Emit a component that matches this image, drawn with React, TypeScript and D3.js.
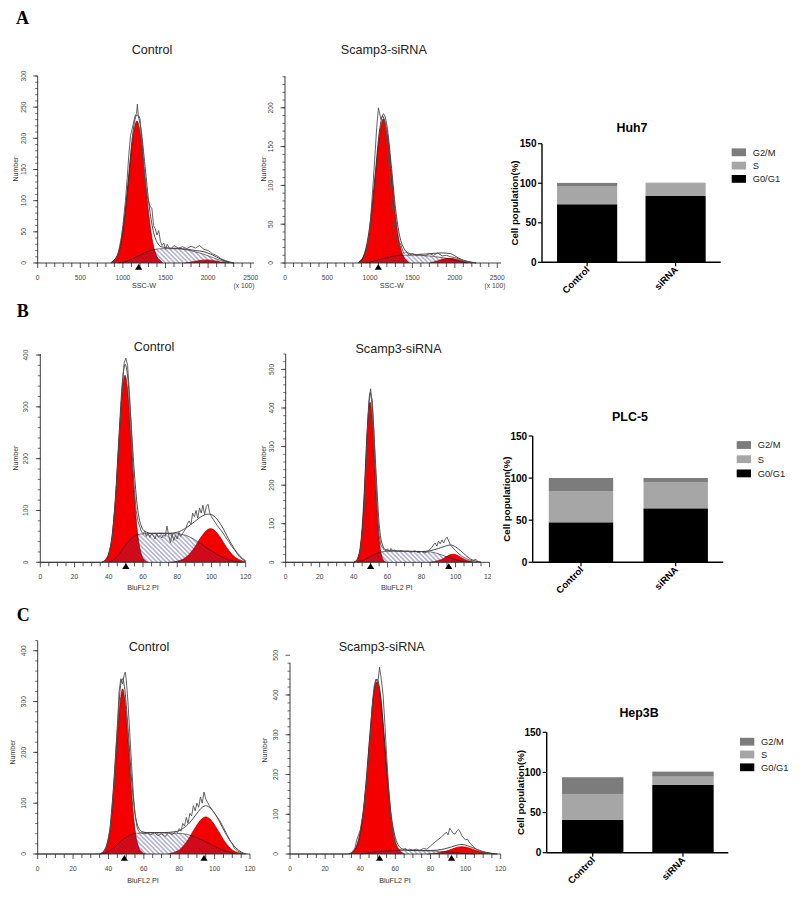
import React, { useEffect, useRef } from 'react';
import * as d3 from 'd3';

type Pt = [number, number];

const RED = '#f40000';
const NAVY = '#34348a';
const SANS = 'Arial, "Liberation Sans", Helvetica, sans-serif';
const SERIF = '"Times New Roman", "Liberation Serif", Times, serif';

// axis tick labels
const sscTicks = [0, 500, 1000, 1500, 2000, 2500];
const piTicks = [0, 20, 40, 60, 80, 100, 120];
const countTicksA1 = [0, 50, 100, 150, 200, 250, 300];
const countTicksA2 = [0, 50, 100, 150, 200];
const countTicks400 = [0, 100, 200, 300, 400];
const countTicks500 = [0, 100, 200, 300, 400, 500];
const percentTicks = [0, 50, 100, 150];

// Huh7 control (SSC-W)
const huh7CtrlG1: Pt[] = [[860, 0], [880, 3], [927, 10], [975, 30], [1022, 74], [1070, 138], [1117, 201], [1165, 228], [1212, 201], [1260, 138], [1307, 74], [1355, 30], [1402, 10], [1450, 3], [1470, 0]];
const huh7CtrlS: Pt[] = [[950, 0], [1050, 3], [1150, 9], [1250, 16], [1350, 21], [1450, 23], [1600, 23], [1750, 21], [1850, 18], [1950, 14], [2050, 9], [2150, 4], [2250, 1], [2300, 0]];
const huh7CtrlG2: Pt[] = [[1720, 0], [1800, 1.5], [1900, 4], [1980, 5], [2060, 4], [2150, 1.5], [2240, 0]];
const huh7CtrlFit: Pt[] = [[860, 0], [880, 3], [927, 10], [975, 32], [1022, 78], [1070, 143], [1117, 209], [1165, 238], [1212, 215], [1260, 155], [1307, 93], [1355, 52], [1402, 33], [1450, 26], [1550, 24], [1700, 23], [1850, 20], [1950, 18], [2050, 13], [2150, 6], [2250, 1], [2300, 0]];
const huh7CtrlRaw: Pt[] = [[860, 0], [900, 2], [940, 12], [980, 40], [1000, 60], [1030, 100], [1050, 135], [1070, 175], [1090, 205], [1100, 210], [1120, 222], [1140, 235], [1160, 240], [1170, 255], [1180, 238], [1200, 232], [1220, 200], [1240, 160], [1260, 130], [1280, 110], [1300, 100], [1320, 90], [1340, 88], [1360, 60], [1380, 55], [1400, 45], [1420, 52], [1440, 35], [1460, 28], [1480, 32], [1500, 22], [1520, 30], [1540, 25], [1560, 22], [1600, 28], [1650, 24], [1700, 26], [1750, 23], [1800, 27], [1850, 24], [1900, 28], [1950, 22], [2000, 20], [2050, 15], [2100, 12], [2150, 7], [2200, 4], [2250, 2], [2300, 0]];
const huh7CtrlPeaks = [1185];

// Huh7 Scamp3-siRNA (SSC-W)
const huh7SiG1: Pt[] = [[860, 0], [875, 2], [922, 8], [970, 25], [1017, 60], [1065, 113], [1112, 164], [1160, 186], [1207, 164], [1255, 113], [1302, 60], [1350, 25], [1397, 8], [1445, 2], [1460, 0]];
const huh7SiS: Pt[] = [[950, 0], [1100, 4], [1250, 8], [1350, 10], [1500, 10], [1700, 9], [1850, 7], [1950, 5], [2050, 2], [2150, 0]];
const huh7SiG2: Pt[] = [[1700, 0], [1800, 3], [1880, 5.5], [1930, 6], [1990, 5.5], [2080, 3], [2200, 0]];
const huh7SiFit: Pt[] = [[880, 0], [925, 9], [970, 28], [1017, 65], [1065, 118], [1112, 170], [1160, 192], [1207, 172], [1255, 122], [1302, 70], [1350, 35], [1400, 19], [1450, 13], [1550, 11], [1700, 12], [1850, 13], [1950, 12], [2050, 6], [2150, 2], [2250, 0]];
const huh7SiRaw: Pt[] = [[880, 0], [920, 3], [960, 15], [1000, 45], [1030, 90], [1060, 140], [1080, 175], [1100, 200], [1110, 195], [1130, 185], [1150, 190], [1170, 185], [1200, 160], [1230, 120], [1260, 80], [1290, 45], [1320, 30], [1340, 22], [1360, 25], [1380, 18], [1400, 12], [1430, 15], [1460, 10], [1500, 12], [1550, 10], [1600, 11], [1650, 9], [1700, 12], [1750, 10], [1800, 13], [1850, 9], [1900, 10], [1950, 8], [2000, 7], [2050, 5], [2100, 3], [2150, 2], [2250, 0]];
const huh7SiPeaks = [1099];

// PLC-5 control (BluFL2 PI)
const plcCtrlG1: Pt[] = [[36, 0], [38, 4], [40, 16], [42, 52], [44, 126], [46, 236], [48, 334], [49.5, 361], [51, 334], [53, 236], [55, 126], [57, 52], [59, 16], [61, 4], [63, 0]];
const plcCtrlS: Pt[] = [[40, 0], [44, 8], [48, 25], [52, 42], [56, 52], [60, 55], [70, 56], [80, 55], [85, 52], [90, 44], [95, 33], [100, 22], [105, 12], [110, 5], [115, 1], [118, 0]];
const plcCtrlG2: Pt[] = [[76, 0], [78, 1], [82, 4], [86, 12], [90, 28], [94, 49], [97, 61], [99.5, 65], [102, 61], [105, 49], [109, 28], [113, 12], [117, 4], [120, 1]];
const plcCtrlFit: Pt[] = [[36, 0], [38, 5], [40, 17], [42, 52], [44, 130], [46, 245], [48, 350], [49.5, 382], [51, 360], [53, 270], [55, 170], [57, 100], [59, 70], [61, 60], [65, 56], [70, 56], [75, 56], [80, 58], [85, 66], [90, 78], [95, 90], [98, 93], [100, 92], [103, 84], [106, 70], [110, 45], [113, 28], [116, 12], [119, 4], [120, 2]];
const plcCtrlRaw: Pt[] = [[0, 0], [36, 0], [38, 4], [40, 15], [42, 45], [44, 120], [46, 235], [48, 345], [49, 385], [50, 394], [51, 380], [52, 330], [53, 270], [54, 190], [55, 140], [56, 100], [57, 80], [58, 70], [59, 60], [60, 55], [61, 60], [62, 50], [63, 57], [64, 48], [65, 55], [66, 52], [67, 45], [68, 55], [69, 48], [70, 52], [71, 47], [72, 53], [73, 50], [74, 70], [75, 52], [76, 38], [77, 55], [78, 42], [79, 52], [80, 45], [81, 58], [82, 50], [83, 55], [84, 60], [85, 65], [86, 75], [87, 80], [88, 72], [89, 95], [90, 88], [91, 100], [92, 85], [93, 105], [94, 95], [95, 110], [96, 92], [97, 108], [98, 112], [99, 95], [100, 88], [102, 78], [104, 68], [106, 60], [108, 50], [110, 40], [112, 30], [114, 22], [116, 15], [118, 8], [120, 3]];
const plcCtrlPeaks = [50];

// PLC-5 Scamp3-siRNA (BluFL2 PI)
const plcSiG1: Pt[] = [[40, 0], [41.7, 5], [42.7, 14], [43.7, 35], [44.7, 75], [45.7, 139], [46.7, 225], [47.7, 315], [48.7, 388], [49.7, 415], [50.7, 388], [51.7, 315], [52.7, 225], [53.7, 139], [54.7, 75], [55.7, 35], [56.7, 14], [57.7, 5], [59, 0]];
const plcSiS: Pt[] = [[42, 0], [46, 6], [50, 15], [54, 24], [58, 28], [65, 29], [75, 28], [85, 27], [90, 22], [95, 14], [100, 7], [105, 2], [110, 0]];
const plcSiG2: Pt[] = [[85, 0], [87, 1.5], [90, 4.5], [93, 10], [96, 18], [98.6, 21], [101, 18.5], [104, 10.5], [107, 4.5], [110, 1.5], [113, 0]];
const plcSiFit: Pt[] = [[40, 0], [42, 6], [44, 36], [46, 145], [48, 340], [49.7, 440], [51, 400], [53, 250], [55, 100], [57, 45], [59, 32], [62, 30], [70, 29], [80, 28], [85, 30], [90, 36], [94, 42], [97, 45], [100, 40], [103, 30], [106, 18], [109, 8], [112, 3], [115, 0]];
const plcSiRaw: Pt[] = [[0, 0], [40, 0], [42, 5], [44, 30], [46, 120], [47, 220], [48, 330], [49, 410], [50, 450], [50.5, 430], [51, 420], [52, 330], [53, 220], [54, 130], [55, 70], [56, 45], [57, 38], [58, 32], [59, 30], [60, 35], [61, 28], [62, 36], [63, 30], [64, 32], [66, 28], [68, 30], [70, 27], [72, 29], [74, 26], [76, 30], [78, 25], [80, 28], [82, 24], [84, 30], [86, 38], [87, 45], [88, 50], [89, 42], [90, 55], [91, 48], [92, 58], [93, 50], [94, 60], [95, 65], [96, 55], [97, 45], [98, 40], [99, 35], [100, 30], [102, 22], [104, 15], [106, 10], [108, 6], [110, 4], [112, 8], [113, 3], [115, 0]];
const plcSiPeaks = [50, 96];

// Hep3B control (BluFL2 PI)
const hepCtrlG1: Pt[] = [[35, 0], [37, 3.5], [39, 14], [41, 48], [43, 125], [45, 228], [47, 310], [48, 325], [49, 310], [51, 228], [53, 125], [55, 48], [57, 14], [59, 3.5], [61, 0]];
const hepCtrlS: Pt[] = [[36, 0], [40, 5], [44, 15], [48, 28], [52, 37], [56, 41], [65, 42], [75, 41], [82, 40], [86, 37], [90, 32], [95, 24], [100, 15], [105, 7], [110, 2], [113, 0]];
const hepCtrlG2: Pt[] = [[74, 0], [76, 2], [80, 8], [84, 23], [88, 46], [91, 62], [93, 70], [95, 73], [97, 70], [99, 62], [102, 46], [106, 23], [110, 8], [114, 2], [116, 0]];
const hepCtrlFit: Pt[] = [[35, 0], [37, 4], [39, 18], [41, 55], [43, 140], [45, 245], [47, 335], [48, 345], [49, 330], [51, 250], [53, 150], [55, 80], [57, 52], [59, 44], [62, 42], [70, 42], [78, 44], [82, 50], [86, 62], [90, 80], [93, 92], [95, 95], [97, 92], [100, 80], [103, 62], [106, 42], [109, 25], [112, 12], [115, 4], [118, 0]];
const hepCtrlRaw: Pt[] = [[0, 0], [35, 0], [37, 4], [39, 15], [41, 50], [43, 130], [45, 250], [46, 320], [47, 345], [48, 335], [49, 355], [49.5, 358], [50, 345], [51, 300], [52, 240], [53, 180], [54, 120], [55, 80], [56, 55], [57, 45], [58, 42], [60, 40], [62, 41], [64, 38], [66, 42], [68, 36], [70, 40], [72, 34], [74, 42], [76, 38], [78, 45], [79, 42], [80, 50], [81, 45], [82, 60], [83, 55], [84, 72], [85, 60], [86, 80], [87, 75], [88, 95], [89, 85], [90, 100], [91, 92], [92, 112], [93, 100], [94, 122], [95, 108], [96, 102], [97, 95], [99, 85], [101, 75], [103, 65], [105, 52], [107, 38], [109, 25], [110, 20], [111, 12], [113, 6], [115, 2], [117, 0]];
const hepCtrlPeaks = [49, 94];

// Hep3B Scamp3-siRNA (BluFL2 PI)
const hepSiG1: Pt[] = [[34, 0], [35.5, 4], [37.5, 15], [39.5, 41], [41.5, 95], [43.5, 186], [45.5, 297], [47.5, 395], [49.5, 433], [51.5, 395], [53.5, 297], [55.5, 186], [57.5, 95], [59.5, 41], [61.5, 15], [63.5, 4], [65, 0]];
const hepSiS: Pt[] = [[40, 0], [45, 3], [50, 6], [55, 8], [65, 9], [75, 8], [85, 7], [90, 5], [95, 3], [100, 1], [105, 0]];
const hepSiG2: Pt[] = [[78, 0], [80, 0.7], [84, 2.5], [88, 6], [92, 12], [95, 16.5], [98, 18.5], [101, 16.5], [104, 12], [108, 6], [112, 2.5], [116, 0.7], [118, 0]];
const hepSiFit: Pt[] = [[34, 0], [35.5, 4], [37.5, 16], [39.5, 45], [41.5, 100], [43.5, 190], [45.5, 300], [47.5, 400], [49.5, 440], [51.5, 402], [53.5, 305], [55.5, 194], [57.5, 103], [59.5, 50], [61.5, 24], [64, 13], [70, 9], [80, 9], [88, 13], [92, 18], [95, 22], [98, 24], [101, 21], [104, 16], [108, 9], [112, 4], [116, 1], [118, 0]];
const hepSiRaw: Pt[] = [[0, 0], [33, 0], [35, 3], [37, 15], [38, 35], [39, 48], [40, 60], [42, 110], [44, 200], [46, 310], [47, 380], [48, 425], [49, 440], [50, 430], [51, 470], [52, 440], [53, 400], [54, 330], [55, 250], [56, 180], [57, 120], [58, 70], [59, 40], [60, 20], [62, 12], [64, 10], [66, 14], [67, 8], [68, 12], [70, 10], [72, 12], [74, 9], [76, 14], [78, 12], [80, 20], [82, 28], [84, 35], [86, 42], [88, 50], [89, 55], [90, 48], [91, 65], [92, 58], [93, 52], [94, 50], [95, 58], [96, 62], [97, 55], [98, 45], [99, 40], [100, 35], [101, 38], [102, 30], [104, 20], [106, 12], [108, 8], [110, 4], [113, 2], [116, 0]];
const hepSiPeaks = [51, 92];

// stacked bars: cell cycle distribution (%)
const groups = ['Control', 'siRNA'];
const phases = ['G0/G1', 'S', 'G2/M'];
const legendOrder = ['G2/M', 'S', 'G0/G1'];
const huh7G0G1 = [73.4, 84.3];
const huh7S = [23.1, 15.7];
const huh7G2M = [3.9, 0.6];
const plc5G0G1 = [47.5, 64.1];
const plc5S = [37.2, 31.3];
const plc5G2M = [15.4, 4.7];
const hep3bG0G1 = [40.8, 84.4];
const hep3bS = [32.4, 10.4];
const hep3bG2M = [20.8, 6.2];

const phaseColor: Record<string, string> = { 'G0/G1': '#000000', S: '#a6a6a6', 'G2/M': '#7c7c7c' };

const histPanels = [
  { id: 'a1', title: 'Control', xLabel: 'SSC-W', unit: '(x 100)', g1: huh7CtrlG1, s: huh7CtrlS, g2: huh7CtrlG2, fit: huh7CtrlFit, raw: huh7CtrlRaw, peaks: huh7CtrlPeaks,
    xMax: 2500, xMinor: 100, xTicks: sscTicks, yMax: 300, yMinor: 10, yTicks: countTicksA1,
    x0: 37.7, x1: 250.7, xEnd: 254, y0: 263, yTop: 76, titleX: 152, titleY: 53.5, numX: 15, numY: 169, labX: 144, labY: 287.5, unitX: 244 },
  { id: 'a2', title: 'Scamp3-siRNA', xLabel: 'SSC-W', unit: '(x 100)', g1: huh7SiG1, s: huh7SiS, g2: huh7SiG2, fit: huh7SiFit, raw: huh7SiRaw, peaks: huh7SiPeaks,
    xMax: 2500, xMinor: 100, xTicks: sscTicks, yMax: 241, yMinor: 10, yTicks: countTicksA2,
    x0: 285, x1: 497.3, xEnd: 501, y0: 263, yTop: 76, titleX: 383.8, titleY: 53.5, numX: 263, numY: 169, labX: 391.7, labY: 287.5, unitX: 495 },
  { id: 'b1', title: 'Control', xLabel: 'BluFL2 PI', g1: plcCtrlG1, s: plcCtrlS, g2: plcCtrlG2, fit: plcCtrlFit, raw: plcCtrlRaw, peaks: plcCtrlPeaks,
    xMax: 120, xMinor: 5, xTicks: piTicks, yMax: 402, yMinor: 20, yTicks: countTicks400,
    x0: 40.3, x1: 245.7, y0: 562.3, yTop: 354, titleX: 154, titleY: 351, numX: 15, numY: 458, labX: 143, labY: 590 },
  { id: 'b2', title: 'Scamp3-siRNA', xLabel: 'BluFL2 PI', g1: plcSiG1, s: plcSiS, g2: plcSiG2, fit: plcSiFit, raw: plcSiRaw, peaks: plcSiPeaks,
    xMax: 120, xMinor: 5, xTicks: piTicks, yMax: 540, yMinor: 20, yTicks: countTicks500,
    x0: 285.7, x1: 489.5, y0: 562.3, yTop: 354, titleX: 398.5, titleY: 352.5, numX: 263, numY: 458, labX: 396.7, labY: 590, clipRight: 491 },
  { id: 'c1', title: 'Control', xLabel: 'BluFL2 PI', g1: hepCtrlG1, s: hepCtrlS, g2: hepCtrlG2, fit: hepCtrlFit, raw: hepCtrlRaw, peaks: hepCtrlPeaks,
    xMax: 120, xMinor: 5, xTicks: piTicks, yMax: 420, yMinor: 20, yTicks: countTicks400,
    x0: 37.7, x1: 250, y0: 854, yTop: 640.6, titleX: 149, titleY: 651, numX: 12, numY: 752, labX: 143, labY: 882.5 },
  { id: 'c2', title: 'Scamp3-siRNA', xLabel: 'BluFL2 PI', g1: hepSiG1, s: hepSiS, g2: hepSiG2, fit: hepSiFit, raw: hepSiRaw, peaks: hepSiPeaks,
    xMax: 120, xMinor: 5, xTicks: piTicks, yMax: 481, yMinor: 20, yTicks: countTicks500,
    x0: 290, x1: 500.7, y0: 854, yTop: 662.8, titleX: 381.7, titleY: 651, numX: 264, numY: 750, labX: 395, labY: 883 },
];

const barPanels = [
  { id: 'huh7', title: 'Huh7', g0: huh7G0G1, s: huh7S, g2: huh7G2M,
    x0: 542, x1: 720.7, xEnd: 720.7, y0: 262.3, yTop: 143.7, titleX: 632, titleY: 131.7, legX: 731.7, legY: 152.3, legStep: 13.3, labX: 515 },
  { id: 'plc5', title: 'PLC-5', g0: plc5G0G1, s: plc5S, g2: plc5G2M,
    x0: 532.7, x1: 724, xEnd: 723.3, y0: 562.3, yTop: 436, titleX: 630, titleY: 420.7, legX: 736.7, legY: 445, legStep: 14.2, labX: 507 },
  { id: 'hep3b', title: 'Hep3B', g0: hep3bG0G1, s: hep3bS, g2: hep3bG2M,
    x0: 546.7, x1: 729, xEnd: 728.3, y0: 852.7, yTop: 732.3, titleX: 639, titleY: 717.3, legX: 740, legY: 741.7, legStep: 12.8, labX: 521 },
];

const letters = [
  { text: 'A', x: 16, y: 24 },
  { text: 'B', x: 16.7, y: 317.3 },
  { text: 'C', x: 16.7, y: 620.7 },
];

const CellCycleFigure = () => {
  const svgRef = useRef<SVGSVGElement>(null);

  useEffect(() => {
    const svg = d3.select(svgRef.current);
    svg.selectAll('*').remove();

    // diagonal hatch for the S-phase area
    const defs = svg.append('defs');
    const pat = defs.append('pattern')
      .attr('id', 'hatch')
      .attr('patternUnits', 'userSpaceOnUse')
      .attr('width', 3.2)
      .attr('height', 3.2)
      .attr('patternTransform', 'rotate(-45)');
    pat.append('line')
      .attr('x1', 1.6).attr('x2', 1.6).attr('y1', 0).attr('y2', 3.2)
      .attr('stroke', NAVY).attr('stroke-width', 0.6);

    // panel letters
    svg.selectAll('.letter')
      .data(letters)
      .join('text')
      .attr('class', 'letter')
      .attr('x', d => d.x)
      .attr('y', d => d.y)
      .attr('font-family', SERIF)
      .attr('font-weight', 'bold')
      .attr('font-size', 18)
      .text(d => d.text);

    // flow cytometry histograms
    histPanels.forEach(p => {
      const x = d3.scaleLinear().domain([0, p.xMax]).range([p.x0, p.x1]);
      const y = d3.scaleLinear().domain([0, p.yMax]).range([p.y0, p.yTop]);
      const g = svg.append('g');

      if (p.clipRight) {
        defs.append('clipPath').attr('id', `clip-${p.id}`)
          .append('rect').attr('x', 0).attr('y', 0).attr('width', p.clipRight).attr('height', 903);
        g.attr('clip-path', `url(#clip-${p.id})`);
      }

      const area = d3.area<Pt>().x(d => x(d[0])).y0(y(0)).y1(d => y(d[1])).curve(d3.curveMonotoneX);
      const smooth = d3.line<Pt>().x(d => x(d[0])).y(d => y(d[1])).curve(d3.curveMonotoneX);
      const jagged = d3.line<Pt>().x(d => x(d[0])).y(d => y(d[1]));

      g.append('path').attr('d', area(p.g1)).attr('fill', RED);
      g.append('path').attr('d', area(p.g2)).attr('fill', RED);
      g.append('path').attr('d', area(p.s)).attr('fill', 'url(#hatch)');

      [p.g1, p.g2, p.s].forEach(c => {
        g.append('path').attr('d', smooth(c))
          .attr('fill', 'none').attr('stroke', '#3a1010').attr('stroke-width', 0.6);
      });
      g.append('path').attr('d', smooth(p.fit))
        .attr('fill', 'none').attr('stroke', '#1e1e1e').attr('stroke-width', 0.8);
      g.append('path').attr('d', jagged(p.raw))
        .attr('fill', 'none').attr('stroke', '#505050').attr('stroke-width', 0.9);

      // x axis
      const axisCol = '#2a2a2a';
      g.append('line')
        .attr('x1', x(0)).attr('x2', p.xEnd ?? x(p.xMax))
        .attr('y1', p.y0).attr('y2', p.y0)
        .attr('stroke', axisCol).attr('stroke-width', 0.9);
      g.selectAll('.xminor')
        .data(d3.range(0, p.xMax + 1e-6, p.xMinor))
        .join('line')
        .attr('x1', d => x(d)).attr('x2', d => x(d))
        .attr('y1', p.y0).attr('y2', d => p.y0 + (p.xTicks.includes(d) ? 5 : 4))
        .attr('stroke', axisCol).attr('stroke-width', 0.8);
      g.selectAll('.xlab')
        .data(p.xTicks)
        .join('text')
        .attr('x', d => x(d))
        .attr('y', p.y0 + 16.5)
        .attr('text-anchor', 'middle')
        .attr('font-family', SANS)
        .attr('font-size', 6.7)
        .attr('fill', '#444')
        .text(d => d);

      // y axis
      g.append('line')
        .attr('x1', p.x0).attr('x2', p.x0)
        .attr('y1', y(0)).attr('y2', y(p.yMax))
        .attr('stroke', axisCol).attr('stroke-width', 0.9);
      g.selectAll('.yminor')
        .data(d3.range(0, p.yMax + 1e-6, p.yMinor))
        .join('line')
        .attr('x1', p.x0 - 2.5).attr('x2', p.x0)
        .attr('y1', d => y(d)).attr('y2', d => y(d))
        .attr('stroke', axisCol).attr('stroke-width', 0.7);
      g.selectAll('.ymajor')
        .data(p.yTicks)
        .join('line')
        .attr('x1', p.x0 - 4.5).attr('x2', p.x0)
        .attr('y1', d => y(d)).attr('y2', d => y(d))
        .attr('stroke', axisCol).attr('stroke-width', 0.8);
      g.selectAll('.ylab')
        .data(p.yTicks)
        .join('text')
        .attr('transform', d => `translate(${p.x0 - 12},${y(d)}) rotate(-90)`)
        .attr('text-anchor', 'middle')
        .attr('font-family', SANS)
        .attr('font-size', 6.7)
        .attr('fill', '#444')
        .text(d => d);

      // peak markers
      g.selectAll('.peak')
        .data(p.peaks)
        .join('path')
        .attr('d', d => `M${x(d)},${p.y0 + 1}L${x(d) - 3.6},${p.y0 + 6.8}L${x(d) + 3.6},${p.y0 + 6.8}Z`)
        .attr('fill', '#000');

      // labels
      g.append('text')
        .attr('x', p.titleX).attr('y', p.titleY)
        .attr('text-anchor', 'middle')
        .attr('font-family', SANS)
        .attr('font-size', 12.6)
        .attr('fill', '#222')
        .text(p.title);
      g.append('text')
        .attr('transform', `translate(${p.numX + 2.5},${p.numY}) rotate(-90)`)
        .attr('text-anchor', 'middle')
        .attr('font-family', SANS)
        .attr('font-size', 7)
        .attr('fill', '#333')
        .text('Number');
      g.append('text')
        .attr('x', p.labX).attr('y', p.labY)
        .attr('text-anchor', 'middle')
        .attr('font-family', SANS)
        .attr('font-size', 7.2)
        .attr('fill', '#333')
        .text(p.xLabel);
      if (p.unit) {
        g.append('text')
          .attr('x', p.unitX).attr('y', p.labY)
          .attr('text-anchor', 'middle')
          .attr('font-family', SANS)
          .attr('font-size', 6.7)
          .attr('fill', '#444')
          .text(p.unit);
      }
    });

    // stacked bar charts
    barPanels.forEach(b => {
      const rows = groups.map((grp, i) => ({ group: grp, 'G0/G1': b.g0[i], S: b.s[i], 'G2/M': b.g2[i] }));
      const series = d3.stack<any>().keys(phases)(rows);
      const x = d3.scaleBand().domain(groups).range([b.x0, b.x1]).paddingInner(0.32).paddingOuter(0.17);
      const y = d3.scaleLinear().domain([0, 150]).range([b.y0, b.yTop]);
      const g = svg.append('g');

      g.selectAll('.layer')
        .data(series)
        .join('g')
        .attr('fill', d => phaseColor[d.key])
        .selectAll('rect')
        .data(d => d)
        .join('rect')
        .attr('x', d => x(d.data.group) as number)
        .attr('width', x.bandwidth())
        .attr('y', d => y(d[1]))
        .attr('height', d => y(d[0]) - y(d[1]));

      // axes
      g.append('line')
        .attr('x1', b.x0).attr('x2', b.x0).attr('y1', b.y0).attr('y2', b.yTop)
        .attr('stroke', '#000').attr('stroke-width', 1.4);
      g.append('line')
        .attr('x1', b.x0).attr('x2', b.xEnd).attr('y1', b.y0).attr('y2', b.y0)
        .attr('stroke', '#000').attr('stroke-width', 1.4);
      g.selectAll('.ytick')
        .data(percentTicks)
        .join('line')
        .attr('x1', b.x0 - 4).attr('x2', b.x0)
        .attr('y1', d => y(d)).attr('y2', d => y(d))
        .attr('stroke', '#000').attr('stroke-width', 1.2);
      g.selectAll('.ylab')
        .data(percentTicks)
        .join('text')
        .attr('x', b.x0 - 5.5)
        .attr('y', d => y(d) + 3.5)
        .attr('text-anchor', 'end')
        .attr('font-family', SANS)
        .attr('font-weight', 'bold')
        .attr('font-size', 10)
        .text(d => d);
      g.selectAll('.xtick')
        .data(groups)
        .join('line')
        .attr('x1', d => (x(d) as number) + x.bandwidth() / 2)
        .attr('x2', d => (x(d) as number) + x.bandwidth() / 2)
        .attr('y1', b.y0).attr('y2', b.y0 + 4)
        .attr('stroke', '#000').attr('stroke-width', 1.2);
      g.selectAll('.xlab')
        .data(groups)
        .join('text')
        .attr('transform', d => `translate(${(x(d) as number) + x.bandwidth() / 2 + 3},${b.y0 + 8}) rotate(-45)`)
        .attr('text-anchor', 'end')
        .attr('font-family', SANS)
        .attr('font-weight', 'bold')
        .attr('font-size', 9.5)
        .text(d => d);

      g.append('text')
        .attr('transform', `translate(${b.labX + 3.4},${(b.y0 + b.yTop) / 2}) rotate(-90)`)
        .attr('text-anchor', 'middle')
        .attr('font-family', SANS)
        .attr('font-weight', 'bold')
        .attr('font-size', 9.7)
        .text('Cell population(%)');
      g.append('text')
        .attr('x', b.titleX).attr('y', b.titleY)
        .attr('text-anchor', 'middle')
        .attr('font-family', SANS)
        .attr('font-weight', 'bold')
        .attr('font-size', 12.4)
        .text(b.title);

      // legend
      const leg = g.selectAll('.leg')
        .data(legendOrder)
        .join('g')
        .attr('transform', (d, i) => `translate(${b.legX},${b.legY + i * b.legStep})`);
      leg.append('rect')
        .attr('x', 0).attr('y', -3.9)
        .attr('width', 14.3).attr('height', 7.8)
        .attr('fill', d => phaseColor[d]);
      leg.append('text')
        .attr('x', 21).attr('y', 3.3)
        .attr('font-family', SANS)
        .attr('font-size', 9.3)
        .attr('fill', '#222')
        .text(d => d);
    });
  }, []);

  return (
    <svg
      ref={svgRef}
      width={800}
      height={903}
      style={{ position: 'absolute', left: 0, top: 0, background: '#fff' }}
    />
  );
};

export default function App() {
  return <CellCycleFigure />;
}
